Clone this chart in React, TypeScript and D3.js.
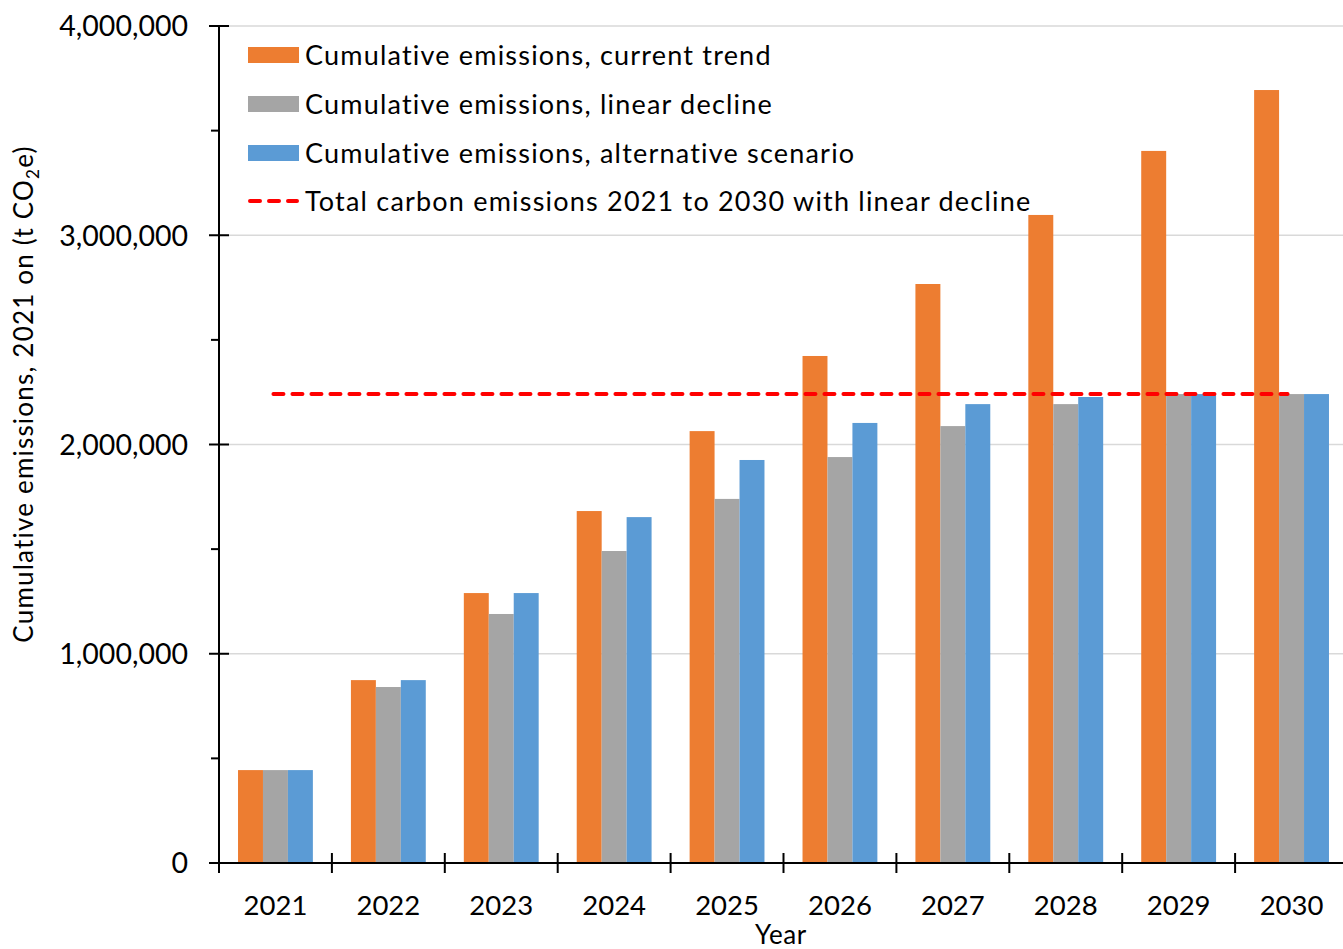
import React from "react";
import * as d3 from "d3";

const years = ["2021", "2022", "2023", "2024", "2025", "2026", "2027", "2028", "2029", "2030"];
const currentTrend = [444000, 874000, 1290000, 1682000, 2064000, 2423000, 2767000, 3097000, 3403000, 3694000];
const linearDecline = [444000, 841000, 1190000, 1491000, 1740000, 1940000, 2088000, 2193000, 2241000, 2241000];
const alternative = [444000, 874000, 1290000, 1653000, 1926000, 2103000, 2193000, 2227000, 2241000, 2241000];
const totalLinear = 2241000;
const yMajorTicks = [0, 1000000, 2000000, 3000000, 4000000];
const yMinorTicks = [500000, 1500000, 2500000, 3500000];
const seriesNames = [
  "Cumulative emissions, current trend",
  "Cumulative emissions, linear decline",
  "Cumulative emissions, alternative scenario",
];
const lineName = "Total carbon emissions 2021 to 2030 with linear decline";
const colors = ["#ED7D31", "#A5A5A5", "#5B9BD5"];
const lineColor = "#FF0000";

const W = 1343, H = 949;
const left = 219, right = 1348, top = 26, bottom = 863;
const FONT = "Lato, 'Open Sans', sans-serif";

export default function App() {
  const x = d3.scaleBand<string>().domain(years).range([left, right]).paddingInner(0).paddingOuter(0);
  const y = d3.scaleLinear().domain([0, 4000000]).range([bottom, top]);
  const series = [currentTrend, linearDecline, alternative];
  const groupW = x.bandwidth() * 0.663;
  const xs = d3.scaleBand<number>().domain([0, 1, 2]).range([0, groupW]).padding(0);
  const fmt = d3.format(",");
  const bw = x.bandwidth();
  const lineX1 = (x(years[0]) as number) + bw / 2 - 2;
  const lineX2 = (x(years[years.length - 1]) as number) + bw / 2 - 4;
  const linePath = d3.line()([[lineX1, y(totalLinear)], [lineX2, y(totalLinear)]]) as string;

  const legendItems = [0, 1, 2, 3];
  const legendY = [55, 104, 153, 201];

  return (
    <svg width={W} height={H} style={{ position: "absolute", left: 0, top: 0, background: "#fff" }} fontFamily={FONT}>
      <rect x={0} y={0} width={W} height={H} fill="#fff" />
      {yMajorTicks.filter((t) => t > 0).map((t) => (
        <line key={"g" + t} x1={left} x2={right} y1={y(t)} y2={y(t)} stroke="#D9D9D9" strokeWidth={1.5} />
      ))}
      {years.map((yr, i) => (
        <g key={yr} transform={`translate(${(x(yr) as number) + (bw - groupW) / 2},0)`}>
          {series.map((s, k) => (
            <rect key={k} x={xs(k) as number} width={xs.bandwidth()} y={y(s[i])} height={y(0) - y(s[i])} fill={colors[k]} />
          ))}
        </g>
      ))}
      <path d={linePath} stroke={lineColor} strokeWidth={4} strokeDasharray="10 9" strokeLinecap="round" fill="none" />
      <line x1={left} x2={left} y1={top} y2={bottom} stroke="#000" strokeWidth={2} />
      {yMajorTicks.map((t) => (
        <g key={"t" + t}>
          <line x1={left - 10} x2={left + 10} y1={y(t)} y2={y(t)} stroke="#000" strokeWidth={2} />
          <text x={188} y={y(t)} dy="0.36em" textAnchor="end" fontSize={28.5} fill="#000">{fmt(t)}</text>
        </g>
      ))}
      {yMinorTicks.map((t) => (
        <line key={"m" + t} x1={left - 8} x2={left} y1={y(t)} y2={y(t)} stroke="#000" strokeWidth={2} />
      ))}
      <line x1={left} x2={right} y1={bottom} y2={bottom} stroke="#000" strokeWidth={2} />
      {years.map((yr) => (
        <line key={"xt" + yr} x1={x(yr) as number} x2={x(yr) as number} y1={bottom - 10} y2={bottom + 10} stroke="#000" strokeWidth={2} />
      ))}
      {years.map((yr) => (
        <text key={"xl" + yr} x={(x(yr) as number) + bw / 2} y={915} textAnchor="middle" fontSize={27.5} fill="#000">{yr}</text>
      ))}
      <text x={(left + 1343) / 2} y={944} textAnchor="middle" fontSize={26} letterSpacing={0.6} fill="#000">Year</text>
      <text transform={`translate(33,394) rotate(-90)`} textAnchor="middle" fontSize={26} letterSpacing={1.2} fill="#000">
        Cumulative emissions, 2021 on (t CO<tspan fontSize={17} dy={6}>2</tspan><tspan dy={-6}>e)</tspan>
      </text>
      {legendItems.map((k) => (
        <g key={"l" + k}>
          {k < 3 ? (
            <rect x={248} y={legendY[k] - 8} width={51} height={16} fill={colors[k]} />
          ) : (
            <line x1={250} x2={297} y1={legendY[k]} y2={legendY[k]} stroke={lineColor} strokeWidth={4} strokeDasharray="10 9" strokeLinecap="round" />
          )}
          <text x={305} y={legendY[k]} dy="0.36em" fontSize={27} letterSpacing={1.2} fill="#000">{k < 3 ? seriesNames[k] : lineName}</text>
        </g>
      ))}
    </svg>
  );
}
